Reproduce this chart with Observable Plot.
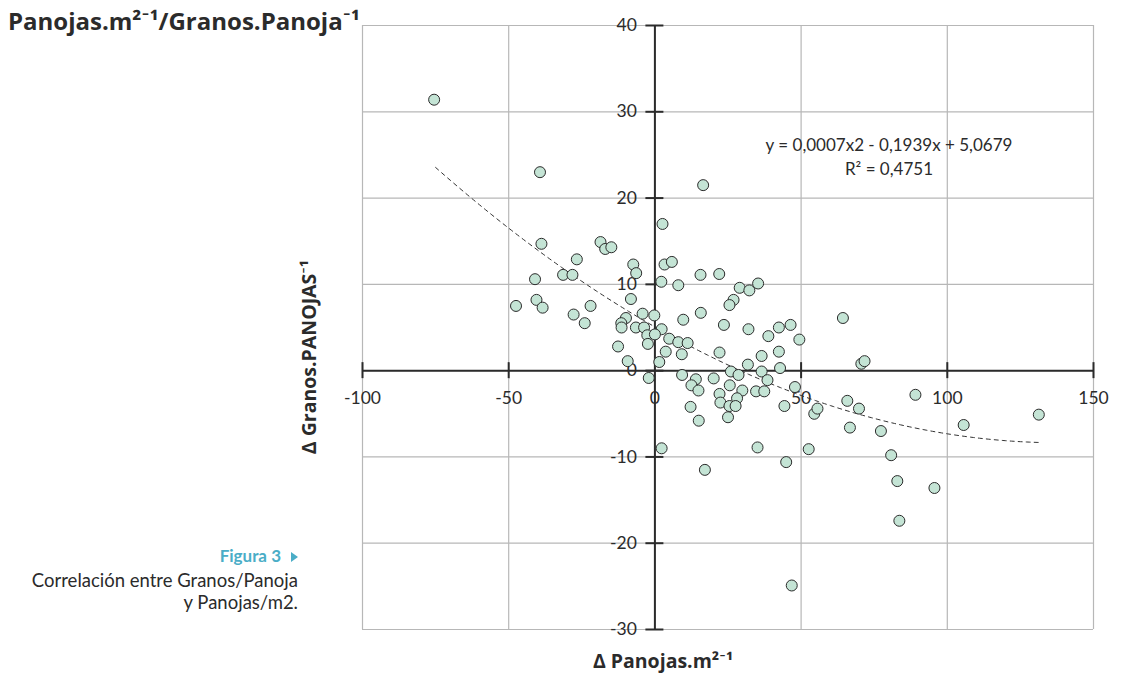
<!DOCTYPE html>
<html><head><meta charset="utf-8">
<script src="https://cdn.jsdelivr.net/npm/d3@7"></script>
<script src="https://cdn.jsdelivr.net/npm/@observablehq/plot@0.6"></script>
<style>
html,body{margin:0;padding:0;background:#fff;}
#wrap{position:relative;width:1122px;height:676px;overflow:hidden;font-family:Lato,"Open Sans",sans-serif;color:#2b2b2b;}
#wrap svg{position:absolute;left:0;top:0;}
.t{position:absolute;white-space:nowrap;line-height:1;z-index:2;}
.b{font-family:"Open Sans",Lato,sans-serif;font-weight:700;}
</style></head><body>
<div id="wrap"></div>
<script>
// ---- data ----
const deltaPanojas = [
 -75.5,-39.3,16.5,2.6,-38.8,-18.6,-17.0,-14.9,-26.7,-7.4,-6.4,3.3,5.8,-41.0,-31.4,-28.2,2.2,8.0,15.6,22.0,
 29.0,32.3,35.3,26.9,25.5,-47.5,-40.5,-38.4,-22.0,-27.8,-24.0,-8.2,-4.2,-0.2,-9.9,-11.5,-11.4,-6.5,-3.7,9.7,
 2.3,-2.6,0.0,4.9,8.0,11.2,-2.4,-12.6,3.7,9.2,22.1,23.6,-9.3,1.5,15.7,64.3,32.0,46.4,42.4,38.8,
 49.4,36.5,42.4,31.8,42.8,70.6,71.7,26.0,28.6,36.5,9.3,-2.1,14.0,12.5,14.9,20.1,38.5,47.9,25.6,22.1,
 29.9,34.6,37.4,22.4,28.1,25.5,27.6,12.2,15.0,25.0,44.3,54.5,55.6,65.8,69.8,89.1,66.7,77.3,105.6,131.3,
 2.3,35.1,52.6,80.8,17.1,44.9,82.9,95.6,83.6,46.8
];
const deltaGranos = [
 31.4,23.0,21.5,17.0,14.7,14.9,14.1,14.3,12.9,12.3,11.3,12.3,12.6,10.6,11.1,11.1,10.3,9.9,11.1,11.2,
 9.6,9.3,10.1,8.2,7.6,7.5,8.2,7.3,7.5,6.5,5.5,8.3,6.6,6.4,6.1,5.5,5.0,5.0,5.0,5.9,
 4.8,4.1,4.2,3.7,3.3,3.2,3.1,2.8,2.2,1.9,2.1,5.3,1.1,1.0,6.7,6.1,4.8,5.3,5.0,4.0,
 3.6,1.7,2.2,0.7,0.3,0.8,1.1,-0.1,-0.5,-0.1,-0.5,-0.85,-1.0,-1.7,-2.3,-0.9,-1.1,-1.9,-1.7,-2.7,
 -2.3,-2.4,-2.4,-3.7,-3.2,-4.1,-4.1,-4.2,-5.8,-5.4,-4.1,-5.0,-4.4,-3.5,-4.4,-2.8,-6.6,-7.0,-6.3,-5.1,
 -9.0,-8.9,-9.1,-9.8,-11.5,-10.6,-12.8,-13.6,-17.4,-24.9
];
const xTicks = [-100,-50,0,50,100,150];
const yTicks = [-30,-20,-10,0,10,20,30,40];
const trendCoef = [0.0007,-0.1939,5.0679]; // y = a x^2 + b x + c (as printed)
const trendRange = [-75,132];
const equationLines = ["y = 0,0007x2 - 0,1939x + 5,0679","R² = 0,4751"];

const points = deltaPanojas.map((x,i)=>({x, y: deltaGranos[i]}));
const trend = d3.range(trendRange[0], trendRange[1] + 0.5, 1).map(x=>({x, y: trendCoef[0]*x*x + trendCoef[1]*x + trendCoef[2]}));
const xTickNZ = xTicks.filter(d=>d!==0);

const gridC = "#b7b7b7", axisC = "#2b2b2b";
const chart = Plot.plot({
  width:1122, height:676,
  marginLeft:362, marginRight:29, marginTop:25, marginBottom:47,
  style:{fontFamily:"Lato, 'Open Sans', sans-serif", fontSize:"16px", color:"#2b2b2b", background:"transparent"},
  x:{domain:[-100,150], axis:null},
  y:{domain:[-30,40], axis:null},
  marks:[
    Plot.ruleX(xTicks, {stroke:gridC, strokeWidth:1.2}),
    Plot.ruleY(yTicks, {stroke:gridC, strokeWidth:1.2}),
    Plot.ruleY([0], {stroke:axisC, strokeWidth:2}),
    Plot.ruleX([0], {stroke:axisC, strokeWidth:2}),
    Plot.ruleX(xTickNZ, {y1:0, y2:0, insetTop:-8, insetBottom:-8, stroke:axisC, strokeWidth:2}),
    Plot.ruleY(yTicks, {x1:0, x2:0, insetLeft:-9, insetRight:-9, stroke:axisC, strokeWidth:2}),
    Plot.text(xTicks, {x:d=>d, y:0, dy:28, text:d=>String(d), fontSize:17.5, fill:axisC}),
    Plot.text(yTicks, {x:0, y:d=>d, dx:-18, text:d=>String(d), textAnchor:"end", fontSize:17.5, fill:axisC}),
    Plot.line(trend, {x:"x", y:"y", stroke:"#333", strokeWidth:1, strokeDasharray:"4,4"}),
    Plot.dot(points, {x:"x", y:"y", r:5.5, fill:"#c4e4d5", stroke:"#2b2b2b", strokeWidth:1})
  ]
});
const wrap = document.getElementById("wrap");
wrap.appendChild(chart);

function addText(html, style, cls){
  const d = document.createElement("div");
  d.className = "t" + (cls ? " " + cls : ""); d.innerHTML = html;
  Object.assign(d.style, style);
  wrap.appendChild(d);
  return d;
}
addText("Panojas.m²⁻¹/Granos.Panoja⁻¹", {left:"8px", top:"9px", fontSize:"24px"}, "b");
addText(equationLines.join("<br>"), {left:"889px", top:"133px", fontSize:"17px", lineHeight:"24px", textAlign:"center", transform:"translateX(-50%)"});
addText("Δ Panojas.m²⁻¹", {left:"663px", top:"651px", fontSize:"19.5px", transform:"translateX(-50%)"}, "b");
addText("Δ Granos.PANOJAS⁻¹", {left:"309px", top:"357px", fontSize:"19.5px", transform:"translate(-50%,-50%) rotate(-90deg)"}, "b");
addText('Figura 3<span style="display:inline-block;width:0;height:0;border-left:7px solid #4aadc7;border-top:5px solid transparent;border-bottom:5px solid transparent;margin-left:10px;vertical-align:0px"></span>',
  {right:"824px", top:"547px", fontSize:"17px", fontWeight:"700", color:"#4aadc7", textAlign:"right"});
addText("Correlación entre Granos/Panoja", {right:"824px", top:"571px", fontSize:"18.5px", textAlign:"right"});
addText("y Panojas/m2.", {right:"824px", top:"593px", fontSize:"18.5px", textAlign:"right"});
</script>
</body></html>
